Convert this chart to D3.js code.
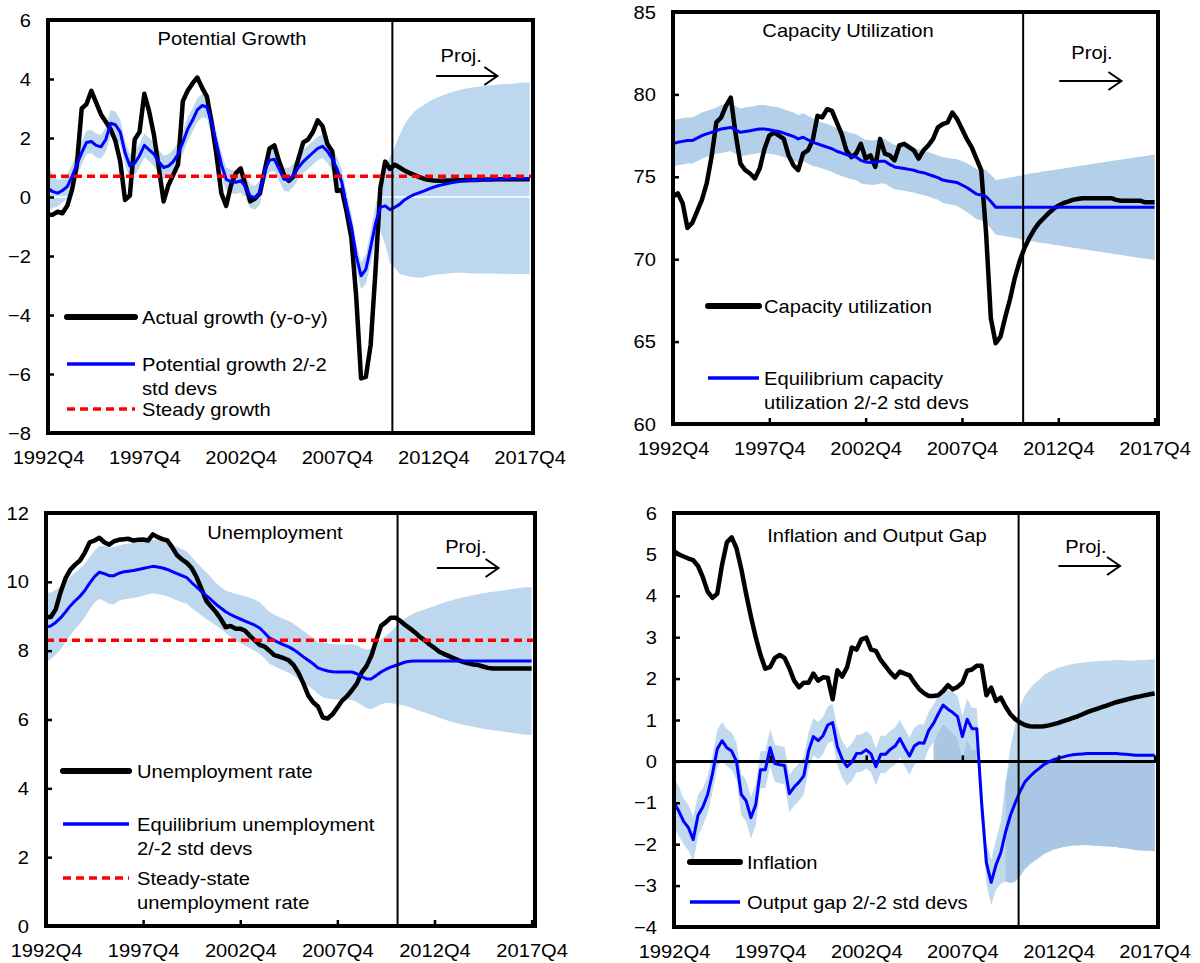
<!DOCTYPE html>
<html>
<head>
<meta charset="utf-8">
<script src="https://cdn.jsdelivr.net/npm/d3@7"></script>
<style>
  body { margin: 0; background: #fff; }
  text { font-family: Arial, "Liberation Sans", sans-serif; fill: #000; }
</style>
</head>
<body>
<svg id="chart" width="1200" height="963"></svg>
<script>
// quarters 1992Q4 .. 2017Q4, index 0..100
const tickIdx = [0, 20, 40, 60, 80, 100];
const tickLabels = ["1992Q4", "1997Q4", "2002Q4", "2007Q4", "2012Q4", "2017Q4"];

// projection start (quarter index) for each panel
const projStart = [71.5, 72.7, 72.4, 71.7];

// Potential growth
const growthActual = [-0.6,-0.6,-0.5,-0.55,-0.3,0.25,1.1,3.0,3.15,3.6,
  3.2,2.8,2.55,2.3,1.9,1.2,-0.1,0.05,1.95,2.2,
  3.5,2.9,2.1,1.0,-0.15,0.4,0.75,1.1,3.25,3.6,
  3.85,4.05,3.7,3.4,2.5,1.4,0.12,-0.3,0.4,0.8,
  0.97,0.4,-0.15,-0.05,0.12,0.9,1.65,1.75,1.2,0.75,
  0.55,0.7,1.3,1.85,1.95,2.2,2.6,2.4,1.8,1.55,
  0.2,0.25,-0.5,-1.4,-3.4,-6.15,-6.1,-5.0,-2.5,0.3,
  1.2,0.95,1.1,1.0,0.9,0.82,0.75,0.68,0.62,0.58,
  0.56,0.55,0.55,0.56,0.56,0.57,0.57,0.58,0.58,0.58,
  0.59,0.59,0.59,0.6,0.6,0.6,0.6,0.6,0.6,0.6,0.6];
const growthPotential = [0.3,0.18,0.13,0.22,0.35,0.7,1.1,1.5,1.85,1.88,
  1.75,1.7,1.95,2.5,2.45,2.2,1.5,1.05,1.15,1.4,
  1.75,1.6,1.45,1.2,1.0,1.05,1.2,1.45,1.85,2.3,
  2.6,2.95,3.1,3.05,2.5,1.8,1.1,0.6,0.52,0.5,
  0.55,0.35,0.03,-0.02,0.15,0.9,1.25,1.28,0.95,0.6,
  0.58,0.75,1.0,1.2,1.35,1.5,1.65,1.72,1.55,1.3,
  0.95,0.5,-0.3,-1.0,-2.0,-2.67,-2.45,-1.7,-0.9,-0.35,
  -0.3,-0.43,-0.35,-0.25,-0.1,0.0,0.08,0.14,0.2,0.27,
  0.33,0.38,0.42,0.46,0.49,0.52,0.54,0.55,0.56,0.57,
  0.58,0.59,0.6,0.6,0.61,0.61,0.62,0.62,0.63,0.63,0.63];
const growthSd2 = [0.8,0.55,0.45,0.4,0.4,0.4,0.4,0.4,0.4,0.4,
  0.4,0.4,0.42,0.45,0.45,0.42,0.4,0.4,0.4,0.4,
  0.4,0.4,0.4,0.4,0.4,0.4,0.4,0.4,0.4,0.4,
  0.4,0.4,0.4,0.4,0.4,0.4,0.4,0.4,0.4,0.4,
  0.4,0.4,0.4,0.4,0.4,0.4,0.4,0.4,0.4,0.4,
  0.4,0.4,0.4,0.4,0.4,0.4,0.4,0.4,0.4,0.4,
  0.4,0.42,0.45,0.45,0.45,0.45,0.5,0.55,0.6,0.8,
  1.3,1.8,2.05,2.35,2.55,2.7,2.8,2.88,2.92,2.95,
  2.98,3.0,3.03,3.05,3.07,3.09,3.11,3.13,3.15,3.16,
  3.17,3.18,3.19,3.2,3.21,3.22,3.22,3.23,3.24,3.24,3.25];
const growthSteady = 0.7;

// Capacity utilization
const capacityActual = [73.8,74.0,73.4,71.9,72.2,72.9,73.6,74.6,76.2,78.3,
  78.6,79.3,79.8,77.6,75.8,75.4,75.2,74.9,75.5,76.7,
  77.5,77.7,77.5,77.3,76.3,75.7,75.4,76.4,76.6,77.2,
  78.7,78.6,79.1,79.0,78.3,77.6,76.6,76.2,76.4,77.0,
  76.1,76.3,75.6,77.3,76.4,76.3,76.0,76.9,77.0,76.8,
  76.6,76.1,76.6,76.9,77.3,78.0,78.2,78.3,78.9,78.5,
  77.9,77.3,76.8,76.1,75.4,71.6,66.4,64.9,65.3,66.5,
  67.6,68.9,69.9,70.7,71.3,71.8,72.2,72.5,72.8,73.05,
  73.25,73.4,73.5,73.6,73.65,73.7,73.7,73.7,73.7,73.7,
  73.7,73.7,73.6,73.55,73.55,73.55,73.55,73.55,73.45,73.45,73.45];
const capacityEquil = [77.0,77.1,77.15,77.2,77.2,77.35,77.5,77.6,77.7,77.8,
  77.9,77.95,78.0,77.85,77.7,77.75,77.8,77.85,77.9,77.9,
  77.85,77.8,77.75,77.65,77.55,77.45,77.3,77.4,77.25,77.1,
  77.0,76.9,76.8,76.7,76.55,76.45,76.35,76.25,76.2,76.0,
  75.9,75.87,75.87,75.95,75.95,75.75,75.6,75.55,75.5,75.45,
  75.4,75.3,75.25,75.15,75.05,74.95,74.8,74.75,74.7,74.65,
  74.5,74.35,74.15,73.95,73.9,73.8,73.5,73.15,73.15,73.15,
  73.15,73.15,73.15,73.15,73.15,73.15,73.15,73.15,73.15,73.15,
  73.15,73.15,73.15,73.15,73.15,73.15,73.15,73.15,73.15,73.15,
  73.15,73.15,73.15,73.15,73.15,73.15,73.15,73.15,73.15,73.15,73.15];
const capacitySd2 = [1.4,1.4,1.4,1.4,1.4,1.4,1.4,1.4,1.4,1.4,
  1.45,1.45,1.45,1.45,1.45,1.45,1.45,1.45,1.45,1.45,
  1.45,1.45,1.45,1.45,1.45,1.45,1.45,1.45,1.45,1.45,
  1.4,1.4,1.4,1.4,1.4,1.4,1.4,1.4,1.4,1.4,
  1.35,1.35,1.35,1.35,1.35,1.35,1.35,1.35,1.35,1.35,
  1.35,1.35,1.35,1.35,1.35,1.35,1.38,1.4,1.4,1.42,
  1.45,1.48,1.5,1.52,1.55,1.6,1.63,1.65,1.7,1.75,
  1.8,1.85,1.92,1.97,2.03,2.08,2.13,2.18,2.22,2.27,
  2.31,2.36,2.4,2.45,2.49,2.54,2.58,2.63,2.67,2.72,
  2.76,2.81,2.85,2.89,2.94,2.98,3.03,3.07,3.11,3.16,3.2];

// Unemployment
const unempRate = [8.98,8.98,9.2,9.7,10.1,10.35,10.5,10.62,10.85,11.15,
  11.2,11.28,11.15,11.08,11.18,11.22,11.24,11.25,11.2,11.22,
  11.23,11.2,11.38,11.3,11.24,11.2,11.0,10.77,10.65,10.55,
  10.4,10.14,9.8,9.45,9.28,9.12,8.92,8.68,8.72,8.64,
  8.64,8.58,8.43,8.3,8.17,8.12,8.0,7.87,7.83,7.78,
  7.72,7.58,7.35,7.05,6.7,6.5,6.38,6.06,6.03,6.15,
  6.35,6.55,6.68,6.85,7.04,7.36,7.55,7.85,8.3,8.72,
  8.83,8.96,8.96,8.86,8.74,8.64,8.53,8.4,8.3,8.18,
  8.08,7.97,7.9,7.84,7.78,7.72,7.67,7.63,7.6,7.58,
  7.54,7.5,7.48,7.48,7.48,7.48,7.48,7.48,7.48,7.48,7.48];
const unempEquil = [8.68,8.72,8.82,8.95,9.12,9.3,9.45,9.58,9.75,9.96,
  10.15,10.28,10.24,10.18,10.18,10.25,10.29,10.31,10.33,10.36,
  10.39,10.42,10.45,10.43,10.4,10.36,10.3,10.24,10.18,10.12,
  9.98,9.85,9.72,9.6,9.48,9.35,9.24,9.13,9.05,8.98,
  8.92,8.86,8.8,8.74,8.66,8.52,8.37,8.3,8.23,8.17,
  8.11,8.03,7.93,7.82,7.72,7.62,7.5,7.45,7.41,7.39,
  7.38,7.38,7.38,7.38,7.33,7.25,7.18,7.18,7.28,7.38,
  7.46,7.52,7.57,7.62,7.67,7.69,7.7,7.7,7.7,7.7,
  7.7,7.7,7.7,7.7,7.7,7.7,7.7,7.7,7.7,7.7,
  7.7,7.7,7.7,7.7,7.7,7.7,7.7,7.7,7.7,7.7,7.7];
const unempSd2 = [1.0,0.97,0.94,0.92,0.88,0.85,0.82,0.8,0.78,0.76,
  0.75,0.77,0.8,0.82,0.83,0.8,0.8,0.8,0.8,0.8,
  0.8,0.78,0.78,0.78,0.78,0.78,0.78,0.78,0.77,0.76,
  0.74,0.72,0.7,0.68,0.65,0.62,0.6,0.62,0.65,0.68,
  0.7,0.72,0.73,0.75,0.75,0.75,0.75,0.75,0.75,0.75,
  0.75,0.75,0.75,0.75,0.75,0.75,0.75,0.8,0.8,0.8,
  0.8,0.8,0.8,0.81,0.82,0.83,0.85,0.88,0.91,0.94,
  0.97,1.04,1.12,1.2,1.27,1.34,1.4,1.45,1.5,1.55,
  1.6,1.65,1.7,1.74,1.78,1.82,1.85,1.88,1.91,1.94,
  1.97,1.99,2.01,2.03,2.05,2.07,2.09,2.11,2.13,2.14,2.15];
const unempSteady = 8.3;

// Inflation and output gap
const inflation = [5.08,5.0,4.95,4.9,4.86,4.72,4.45,4.1,3.95,4.05,
  4.75,5.29,5.41,5.15,4.65,4.05,3.5,3.0,2.57,2.24,
  2.28,2.5,2.57,2.5,2.25,1.95,1.79,1.9,1.9,2.12,
  1.95,2.03,2.02,1.5,2.2,2.05,2.27,2.75,2.7,2.95,
  2.99,2.7,2.67,2.45,2.3,2.15,2.03,2.17,2.12,2.08,
  1.9,1.75,1.65,1.58,1.58,1.6,1.7,1.84,1.74,1.8,
  1.9,2.19,2.22,2.31,2.31,1.6,1.78,1.46,1.54,1.32,
  1.14,1.02,0.94,0.88,0.85,0.84,0.84,0.85,0.87,0.9,
  0.93,0.97,1.01,1.05,1.09,1.14,1.19,1.23,1.27,1.31,
  1.35,1.39,1.43,1.46,1.49,1.52,1.55,1.57,1.6,1.62,1.64];
const outputGap = [-1.0,-1.2,-1.45,-1.6,-1.89,-1.3,-1.1,-0.8,-0.3,0.3,
  0.5,0.33,0.25,0.0,-0.8,-0.95,-1.36,-1.05,-0.2,-0.2,
  0.33,-0.05,-0.08,-0.1,-0.78,-0.62,-0.5,-0.35,0.25,0.6,
  0.5,0.62,0.88,0.94,0.35,0.05,-0.13,-0.02,0.19,0.2,
  0.28,0.18,-0.13,0.17,0.17,0.29,0.37,0.55,0.33,0.13,
  0.37,0.45,0.44,0.75,0.92,1.15,1.36,1.26,1.18,1.08,
  0.6,1.02,0.79,0.79,-1.0,-2.45,-2.92,-2.5,-2.2,-1.7,
  -1.3,-1.0,-0.72,-0.5,-0.37,-0.26,-0.17,-0.07,-0.01,0.04,
  0.08,0.11,0.14,0.16,0.17,0.18,0.19,0.19,0.19,0.19,
  0.19,0.19,0.19,0.18,0.17,0.16,0.15,0.15,0.15,0.15,0.15];
const outputGapSd2 = [0.6,0.6,0.55,0.55,0.55,0.5,0.45,0.45,0.45,0.45,
  0.45,0.45,0.45,0.45,0.5,0.5,0.5,0.5,0.45,0.45,
  0.45,0.45,0.45,0.45,0.45,0.45,0.45,0.45,0.45,0.45,
  0.45,0.45,0.45,0.45,0.45,0.45,0.45,0.45,0.45,0.45,
  0.45,0.45,0.45,0.45,0.45,0.45,0.45,0.45,0.45,0.45,
  0.45,0.45,0.45,0.45,0.45,0.45,0.45,0.45,0.5,0.5,
  0.5,0.5,0.5,0.5,0.5,0.5,0.55,0.6,0.75,1.2,
  1.64,1.9,2.05,2.1,2.12,2.14,2.15,2.16,2.17,2.17,
  2.18,2.18,2.19,2.19,2.2,2.2,2.21,2.22,2.23,2.24,
  2.24,2.25,2.26,2.27,2.27,2.28,2.29,2.3,2.3,2.31,2.32];

const svg = d3.select("#chart");
const FONT = 19, STRETCH = 1.06;
const SHADE = "#a9c7e4";

// Excel-like wide text
function stretch(sel) {
  sel.each(function() {
    const len = this.getComputedTextLength();
    d3.select(this).attr("textLength", len * STRETCH).attr("lengthAdjust", "spacingAndGlyphs");
  });
}

const panels = [
  {id: "growth", left: 48, right: 533, top: 20, bottom: 433, yDomain: [-8, 6], yStep: 2,
   title: "Potential Growth", titleX: 232, titleDy: 25, band: "#bdd7ee", shades: [],
   actual: growthActual, center: growthPotential, sd2: growthSd2, steady: growthSteady,
   zeroLine: "#fff", xTicksAtZero: false, bottomTicks: false,
   proj: {tx: 81.5, ty: 42, a0: 80.6, a1: 93.3, ay: 56},
   legend: {x1: 67, x2: 135, tx: 142, items: [
     {kind: "actual", y: 317, lines: ["Actual growth (y-o-y)"]},
     {kind: "center", y: 364, lines: ["Potential growth 2/-2", "std devs"]},
     {kind: "steady", y: 409, lines: ["Steady growth"]}]}},
  {id: "capacity", left: 673, right: 1158, top: 12, bottom: 424, yDomain: [60, 85], yStep: 5,
   title: "Capacity Utilization", titleX: 848, titleDy: 25, band: "#b3cfe9", shades: [],
   actual: capacityActual, center: capacityEquil, sd2: capacitySd2, steady: null,
   zeroLine: null, xTicksAtZero: false, bottomTicks: true,
   proj: {tx: 82.7, ty: 47, a0: 80.2, a1: 93.1, ay: 69},
   legend: {x1: 708, x2: 759, tx: 764, items: [
     {kind: "actual", y: 306, lines: ["Capacity utilization"]},
     {kind: "center", y: 378, lines: ["Equilibrium capacity", "utilization 2/-2 std devs"]}]}},
  {id: "unemp", left: 46, right: 535, top: 513, bottom: 926, yDomain: [0, 12], yStep: 2,
   title: "Unemployment", titleX: 275, titleDy: 26, band: "#bdd7ee", shades: [],
   actual: unempRate, center: unempEquil, sd2: unempSd2, steady: unempSteady,
   zeroLine: null, xTicksAtZero: false, bottomTicks: true,
   proj: {tx: 82.2, ty: 40, a0: 80.5, a1: 93.2, ay: 55},
   legend: {x1: 63, x2: 129, tx: 137, items: [
     {kind: "actual", y: 771, lines: ["Unemployment rate"]},
     {kind: "center", y: 824, lines: ["Equilibrium unemployment", "2/-2 std devs"]},
     {kind: "steady", y: 878, lines: ["Steady-state", "unemployment rate"]}]}},
  {id: "inflation", left: 674, right: 1158, top: 513, bottom: 927, yDomain: [-4, 6], yStep: 1,
   title: "Inflation and Output Gap", titleX: 877, titleDy: 29, band: "#c0d9ef",
   // darker overlap of the band with the zero base: [from, to, side]
   shades: [[54, 63, "above"], [69, 100, "below"]],
   actual: inflation, center: outputGap, sd2: outputGapSd2, steady: null,
   zeroLine: "#000", xTicksAtZero: true, bottomTicks: false,
   proj: {tx: 81.4, ty: 40, a0: 80.0, a1: 92.8, ay: 53},
   legend: {x1: 690, x2: 740, tx: 747, items: [
     {kind: "actual", y: 862, lines: ["Inflation"]},
     {kind: "center", y: 902, lines: ["Output gap 2/-2 std devs"]}]}}
];

const styles = {
  actual: {stroke: "#000", width: 4.5, legendWidth: 6, dash: null},
  center: {stroke: "#0000ff", width: 3, legendWidth: 3.5, dash: null},
  steady: {stroke: "#ff0000", width: 3.5, legendWidth: 3.5, dash: "8,5"}
};

panels.forEach((p, k) => {
  const x = d3.scaleLinear().domain([0, 100.7]).range([p.left, p.right]);
  const y = d3.scaleLinear().domain(p.yDomain).range([p.bottom, p.top]);
  const g = svg.append("g").attr("class", "panel-" + p.id);

  svg.append("clipPath").attr("id", "clip-" + p.id)
    .append("rect")
    .attr("x", p.left).attr("y", p.top)
    .attr("width", p.right - p.left).attr("height", p.bottom - p.top);
  const plot = g.append("g").attr("clip-path", `url(#clip-${p.id})`);

  // +/- 2 std dev band
  const band = d3.area()
    .x((d, i) => x(i))
    .y0((d, i) => y(p.center[i] - d))
    .y1((d, i) => y(p.center[i] + d));
  plot.append("path").datum(p.sd2)
    .attr("d", band)
    .attr("fill", p.band);

  // darker parts of the band
  p.shades.forEach(([from, to, side]) => {
    const shade = d3.area()
      .defined((d, i) => i >= from && i <= to)
      .x((d, i) => x(i));
    if (side === "below") {
      shade.y0((d, i) => y(p.center[i] - d))
           .y1((d, i) => y(Math.min(0, p.center[i] + d)));
    } else {
      shade.y0(y(0))
           .y1((d, i) => y(Math.max(0, p.center[i] - d)));
    }
    plot.append("path").datum(p.sd2)
      .attr("d", shade)
      .attr("fill", SHADE);
  });

  if (p.zeroLine) {
    plot.append("line")
      .attr("x1", p.left).attr("x2", p.right)
      .attr("y1", y(0)).attr("y2", y(0))
      .style("stroke", p.zeroLine)
      .style("stroke-width", p.zeroLine === "#fff" ? 1.5 : 3);
  }

  const line = d3.line().x((d, i) => x(i)).y(d => y(d));
  plot.append("path").datum(p.actual)
    .attr("d", line)
    .attr("fill", "none")
    .style("stroke", styles.actual.stroke)
    .style("stroke-width", styles.actual.width)
    .style("stroke-linejoin", "round");
  plot.append("path").datum(p.center)
    .attr("d", line)
    .attr("fill", "none")
    .style("stroke", styles.center.stroke)
    .style("stroke-width", styles.center.width)
    .style("stroke-linejoin", "round");

  if (p.steady !== null) {
    plot.append("line")
      .attr("x1", x(0)).attr("x2", p.right)
      .attr("y1", y(p.steady)).attr("y2", y(p.steady))
      .style("stroke", styles.steady.stroke)
      .style("stroke-width", styles.steady.width)
      .style("stroke-dasharray", styles.steady.dash);
  }

  // projection divider
  g.append("line")
    .attr("x1", x(projStart[k])).attr("x2", x(projStart[k]))
    .attr("y1", p.top).attr("y2", p.bottom)
    .style("stroke", "#000").style("stroke-width", 2);

  // axes
  const yAxis = g.append("g")
    .attr("transform", `translate(${p.left},0)`)
    .call(d3.axisLeft(y)
      .tickValues(d3.range(p.yDomain[0], p.yDomain[1] + 0.001, p.yStep))
      .tickSizeInner(-6).tickSizeOuter(0).tickPadding(17));
  yAxis.select(".domain").remove();
  yAxis.selectAll(".tick line").style("stroke", "#000").style("stroke-width", 2.5);
  yAxis.selectAll("text").attr("font-size", FONT).call(stretch);

  const xAxis = g.append("g")
    .attr("transform", `translate(0,${p.bottom})`)
    .call(d3.axisBottom(x)
      .tickValues(tickIdx)
      .tickFormat((d, i) => tickLabels[i])
      .tickSizeInner(p.bottomTicks ? -6 : 0).tickSizeOuter(0).tickPadding(18));
  xAxis.select(".domain").remove();
  xAxis.selectAll(".tick line").style("stroke", "#000").style("stroke-width", 2.5);
  xAxis.selectAll("text").attr("font-size", FONT).call(stretch);

  if (p.xTicksAtZero) {
    const zAxis = g.append("g")
      .attr("transform", `translate(0,${y(0)})`)
      .call(d3.axisBottom(x).tickValues(tickIdx).tickFormat("")
        .tickSizeInner(-6).tickSizeOuter(0));
    zAxis.select(".domain").remove();
    zAxis.selectAll(".tick line").style("stroke", "#000").style("stroke-width", 2.5);
  }

  // frame
  g.append("rect")
    .attr("x", p.left).attr("y", p.top)
    .attr("width", p.right - p.left).attr("height", p.bottom - p.top)
    .attr("fill", "none")
    .style("stroke", "#000").style("stroke-width", 4);

  // title
  g.append("text")
    .attr("x", p.titleX).attr("y", p.top + p.titleDy)
    .attr("text-anchor", "middle")
    .attr("font-size", FONT)
    .text(p.title)
    .call(stretch);

  // Proj. label and arrow
  g.append("text")
    .attr("x", x(p.proj.tx)).attr("y", p.top + p.proj.ty)
    .attr("font-size", FONT)
    .text("Proj.")
    .call(stretch);
  const ax0 = x(p.proj.a0), ax1 = x(p.proj.a1), ay = p.top + p.proj.ay;
  g.append("line")
    .attr("x1", ax0).attr("x2", ax1).attr("y1", ay).attr("y2", ay)
    .style("stroke", "#000").style("stroke-width", 2);
  g.append("path")
    .attr("d", `M${ax1 - 13},${ay - 9}L${ax1},${ay}L${ax1 - 13},${ay + 9}`)
    .attr("fill", "none")
    .style("stroke", "#000").style("stroke-width", 2);

  // legend
  const lg = g.append("g").attr("class", "legend");
  p.legend.items.forEach(it => {
    const st = styles[it.kind];
    lg.append("line")
      .attr("x1", p.legend.x1).attr("x2", p.legend.x2)
      .attr("y1", it.y).attr("y2", it.y)
      .style("stroke", st.stroke)
      .style("stroke-width", st.legendWidth)
      .style("stroke-linecap", it.kind === "actual" ? "round" : "butt")
      .style("stroke-dasharray", st.dash);
    it.lines.forEach((t, j) => {
      lg.append("text")
        .attr("x", p.legend.tx).attr("y", it.y + j * 24)
        .attr("dy", "0.35em")
        .attr("font-size", FONT)
        .text(t)
        .call(stretch);
    });
  });
});
</script>
</body>
</html>
